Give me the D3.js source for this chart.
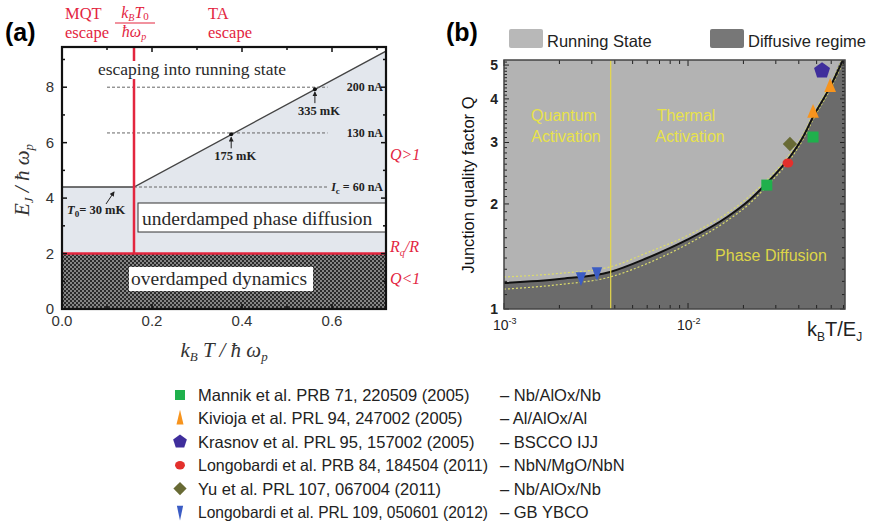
<!DOCTYPE html>
<html><head><meta charset="utf-8">
<script src="https://cdn.jsdelivr.net/npm/d3@7"></script>
<style>body{margin:0;background:#fff;}svg{display:block;}</style>
</head><body>
<svg id="c" width="878" height="525"></svg>
<script>
// ---------------- DATA ----------------
// Panel (a)
const aXMajor = [0.0, 0.2, 0.4, 0.6];
const aXMinor = [0.1, 0.3, 0.5, 0.7];
const aYMajor = [0, 2, 4, 6, 8];
const aYMinor = [1, 3, 5, 7, 9];
const T0 = 0.16;                       // kB T0 / hbar wp
const EQ = 2;                          // Rq/R boundary
const boundaryX = [0, 0.16, 0.72];
const boundaryE = [4.4, 4.4, 9.3];
const levelE = [8.0, 6.35, 4.4];
const levelStart = [0.10, 0.10, 0.16];
const levelEnd = [0.59, 0.59, 0.59];
const levelLabels = ["200 nA", "130 nA", "60 nA"];
const tempX = [0.376, 0.562];
const tempE = [6.3, 7.93];
const tempLabels = ["175 mK", "335 mK"];

// Panel (b)
const curveT = [0.001, 0.002, 0.00377, 0.006, 0.00985, 0.0163, 0.0215, 0.0268, 0.0358, 0.042, 0.0478, 0.0592, 0.0695];
const curveQ = [1.187, 1.219, 1.277, 1.40, 1.577, 1.835, 2.05, 2.295, 2.73, 3.10, 3.55, 4.33, 5.17];
const upperQ = [1.235, 1.265, 1.32, 1.45, 1.62, 1.88, 2.10, 2.34, 2.78, 3.15, 3.61, 4.40, 5.25];
const lowerQ = [1.14, 1.175, 1.235, 1.35, 1.53, 1.79, 2.0, 2.25, 2.68, 3.05, 3.49, 4.26, 5.09];
const quantumT = 0.0038;
const bYMajor = [1, 2, 3, 4, 5];
const bXMajor = [0.001, 0.01];
const bXMinor = [0.002,0.003,0.004,0.005,0.006,0.007,0.008,0.009,0.02,0.03,0.04,0.05,0.06,0.07];

const seriesNames = ["Mannik et al. PRB 71, 220509 (2005)", "Kivioja et al. PRL 94, 247002 (2005)",
  "Krasnov et al. PRL 95, 157002 (2005)", "Longobardi et al. PRB 84, 184504 (2011)",
  "Yu et al. PRL 107, 067004 (2011)", "Longobardi et al. PRL 109, 050601 (2012)"];
const seriesMaterials = ["– Nb/AlOx/Nb", "– Al/AlOx/Al", "– BSCCO IJJ", "– NbN/MgO/NbN", "– Nb/AlOx/Nb", "– GB YBCO"];
const seriesShapes = ["square", "triUp", "pentagon", "circle", "diamond", "triDown"];
const seriesColors = ["#1fb04c", "#f7941d", "#3f2e9c", "#e3302c", "#686a34", "#3b5cc4"];
const mannikT = [0.0268, 0.0478],  mannikQ = [2.265, 3.11];
const kiviojaT = [0.0478, 0.0592], kiviojaQ = [3.67, 4.35];
const krasnovT = [0.0535],         krasnovQ = [4.82];
const longo11T = [0.0349],         longo11Q = [2.62];
const yuT = [0.0358],              yuQ = [2.97];
const longo12T = [0.00262, 0.0032], longo12Q = [1.227, 1.268];
const seriesT = [mannikT, kiviojaT, krasnovT, longo11T, yuT, longo12T];
const seriesQ = [mannikQ, kiviojaQ, krasnovQ, longo11Q, yuQ, longo12Q];

// ---------------- DRAW ----------------
const svg = d3.select("#c");
const serif = "'Liberation Serif','Times New Roman',serif";
const sans = "'Liberation Sans',Arial,sans-serif";
const RED = "#e3263f";
const defs = svg.append("defs");

const pat = defs.append("pattern").attr("id","hatch").attr("width",4).attr("height",4).attr("patternUnits","userSpaceOnUse");
pat.append("rect").attr("width",4).attr("height",4).attr("fill","#2a2a2a");
pat.append("rect").attr("width",2).attr("height",2).attr("fill","#858585");
pat.append("rect").attr("x",2).attr("y",2).attr("width",2).attr("height",2).attr("fill","#858585");
const arrowM = defs.append("marker").attr("id","arr").attr("viewBox","0 0 6 6").attr("refX",5).attr("refY",3)
  .attr("markerWidth",5).attr("markerHeight",5).attr("orient","auto");
arrowM.append("path").attr("d","M0,0L6,3L0,6Z").attr("fill","#222");

// ===== Panel (a) =====
const xa = d3.scaleLinear().domain([0, 0.72]).range([62, 386]);
const ya = d3.scaleLinear().domain([0, 9.45]).range([309, 47]);
const ga = svg.append("g");
const [ax0, ax1] = xa.range(), [ay0, ay1] = ya.range();

ga.append("rect").attr("x",ax0).attr("y",ay1).attr("width",ax1-ax0).attr("height",ay0-ay1).attr("fill","#fff");
ga.append("path").datum(boundaryX.map((x,i)=>[x,boundaryE[i]]))
  .attr("d", d3.area().x(d=>xa(d[0])).y0(ya(EQ)).y1(d=>ya(d[1])))
  .attr("fill","#e3e7ed");
ga.append("rect").attr("x",ax0).attr("y",ya(EQ)).attr("width",ax1-ax0).attr("height",ya(0)-ya(EQ)).attr("fill","url(#hatch)");
ga.append("path").datum(boundaryX.map((x,i)=>[x,boundaryE[i]]))
  .attr("d", d3.line().x(d=>xa(d[0])).y(d=>ya(d[1])))
  .attr("fill","none").attr("stroke","#444").attr("stroke-width",1.4);
levelE.forEach((e,i)=>{
  ga.append("line").attr("x1",xa(levelStart[i])).attr("x2",xa(levelEnd[i])).attr("y1",ya(e)).attr("y2",ya(e))
    .attr("stroke","#666").attr("stroke-width",1).attr("stroke-dasharray","3,2");
  const t = ga.append("text").attr("x",383).attr("y",ya(e)+4).attr("text-anchor","end")
    .attr("font-family",serif).attr("font-weight","bold").attr("font-size",12).attr("fill","#222");
  if (i === 2) {
    t.append("tspan").attr("font-style","italic").text("I");
    t.append("tspan").attr("font-size",9).attr("dy",3).text("c");
    t.append("tspan").attr("dy",-3).text(" = " + levelLabels[i]);
  } else t.text(levelLabels[i]);
});
tempX.forEach((x,i)=>{
  ga.append("circle").attr("cx",xa(x)).attr("cy",ya(tempE[i])).attr("r",2).attr("fill","#111");
  ga.append("line").attr("x1",xa(x)).attr("x2",xa(x)).attr("y1",ya(tempE[i])+14).attr("y2",ya(tempE[i])+3)
    .attr("stroke","#222").attr("stroke-width",1).attr("marker-end","url(#arr)");
  ga.append("text").attr("x",xa(x)+4).attr("y",ya(tempE[i])+26).attr("text-anchor","middle")
    .attr("font-family",serif).attr("font-weight","bold").attr("font-size",12.5).attr("fill","#222").text(tempLabels[i]);
});
const t0 = ga.append("text").attr("x",67).attr("y",214).attr("font-family",serif).attr("font-weight","bold")
  .attr("font-size",12.5).attr("fill","#222");
t0.append("tspan").attr("font-style","italic").text("T");
t0.append("tspan").attr("font-size",9).attr("dy",3).text("0");
t0.append("tspan").attr("dy",-3).text("= 30 mK");
ga.append("line").attr("x1",106).attr("y1",204).attr("x2",114).attr("y2",192).attr("stroke","#222").attr("marker-end","url(#arr)");

ga.append("line").attr("x1",xa(T0)).attr("x2",xa(T0)).attr("y1",ay1).attr("y2",ya(EQ))
  .attr("stroke",RED).attr("stroke-width",2.5);
ga.append("line").attr("x1",ax0).attr("x2",ax1).attr("y1",ya(EQ)).attr("y2",ya(EQ))
  .attr("stroke",RED).attr("stroke-width",2.5);

function boxedText(x, y, txt, size) {
  const g = ga.append("g");
  const r = g.append("rect").attr("fill","#fff");
  const t = g.append("text").attr("x",x).attr("y",y).attr("font-family",serif).attr("font-size",size)
    .attr("fill","#2a2a2a").text(txt);
  return {g, r, t};
}
const esc = boxedText(192, 75, "escaping into running state", 17.5);
esc.t.attr("text-anchor","middle");
{ const b = esc.t.node().getBBox(); esc.r.attr("x",b.x-2).attr("y",b.y+2).attr("width",b.width+4).attr("height",b.height-2); }
const und = boxedText(142, 225, "underdamped phase diffusion", 19.5);
und.r.attr("x",138).attr("y",203).attr("width",ax1-138).attr("height",29).attr("stroke","#333").attr("stroke-width",1);
const ovd = boxedText(131, 285, "overdamped dynamics", 19.5);
ovd.r.attr("x",129).attr("y",267).attr("width",184).attr("height",24);

const tickStyle = s => s.attr("stroke","#111").attr("stroke-width",1.5);
aXMajor.concat(aXMinor).forEach(v=>{
  const len = aXMajor.includes(v) ? 5 : 3;
  tickStyle(ga.append("line").attr("x1",xa(v)).attr("x2",xa(v)).attr("y1",ay0).attr("y2",ay0-len));
  tickStyle(ga.append("line").attr("x1",xa(v)).attr("x2",xa(v)).attr("y1",ay1).attr("y2",ay1+len));
});
aYMajor.concat(aYMinor).forEach(v=>{
  const len = aYMajor.includes(v) ? 5 : 3;
  tickStyle(ga.append("line").attr("x1",ax0).attr("x2",ax0+len).attr("y1",ya(v)).attr("y2",ya(v)));
  tickStyle(ga.append("line").attr("x1",ax1).attr("x2",ax1-len).attr("y1",ya(v)).attr("y2",ya(v)));
});
ga.append("rect").attr("x",ax0).attr("y",ay1).attr("width",ax1-ax0).attr("height",ay0-ay1)
  .attr("fill","none").attr("stroke","#111").attr("stroke-width",2.2);
aXMajor.forEach(v=>ga.append("text").attr("x",xa(v)).attr("y",326).attr("text-anchor","middle")
  .attr("font-family",sans).attr("font-size",15).attr("fill","#333").text(d3.format(".1f")(v)));
aYMajor.forEach(v=>ga.append("text").attr("x",54).attr("y",ya(v)+5).attr("text-anchor","end")
  .attr("font-family",sans).attr("font-size",15).attr("fill","#333").text(v));

const yl = ga.append("text").attr("transform","translate(29,180) rotate(-90)").attr("text-anchor","middle")
  .attr("font-family",serif).attr("font-style","italic").attr("font-size",21).attr("fill","#333");
yl.append("tspan").text("E");
yl.append("tspan").attr("font-size",13).attr("dy",4).text("J");
yl.append("tspan").attr("dy",-4).text(" / ħ ω");
yl.append("tspan").attr("font-size",13).attr("dy",4).text("p");
const xl = ga.append("text").attr("x",224).attr("y",357).attr("text-anchor","middle")
  .attr("font-family",serif).attr("font-style","italic").attr("font-size",21).attr("fill","#333");
xl.append("tspan").text("k");
xl.append("tspan").attr("font-size",13).attr("dy",4).text("B");
xl.append("tspan").attr("dy",-4).text(" T / ħ ω");
xl.append("tspan").attr("font-size",13).attr("dy",4).text("p");

function redText(x,y,txt,size,italic){ return ga.append("text").attr("x",x).attr("y",y).attr("font-family",serif)
  .attr("font-size",size).attr("fill",RED).attr("font-style",italic?"italic":"normal").text(txt); }
redText(65,19,"MQT",16.5); redText(65,38,"escape",16.5);
redText(208,19,"TA",16.5); redText(208,38,"escape",16.5);
const num = ga.append("text").attr("x",135).attr("y",18).attr("text-anchor","middle").attr("font-family",serif)
  .attr("font-size",16).attr("fill",RED).attr("font-style","italic");
num.append("tspan").text("k"); num.append("tspan").attr("font-size",10).attr("dy",3).text("B");
num.append("tspan").attr("dy",-3).text("T"); num.append("tspan").attr("font-size",11).attr("dy",2).attr("font-style","normal").text("0");
ga.append("line").attr("x1",115).attr("x2",155).attr("y1",23).attr("y2",23).attr("stroke",RED).attr("stroke-width",1.2);
const den = ga.append("text").attr("x",134).attr("y",37).attr("text-anchor","middle").attr("font-family",serif)
  .attr("font-size",16).attr("fill",RED).attr("font-style","italic");
den.append("tspan").text("ħω"); den.append("tspan").attr("font-size",10).attr("dy",3).text("p");
redText(390,160,"Q>1",16,true);
const rq = ga.append("text").attr("x",390).attr("y",252).attr("font-family",serif).attr("font-size",16).attr("fill",RED).attr("font-style","italic");
rq.append("tspan").text("R"); rq.append("tspan").attr("font-size",10).attr("dy",4).text("q"); rq.append("tspan").attr("dy",-4).text("/R");
redText(390,284,"Q<1",16,true);

svg.append("text").attr("x",5).attr("y",41).attr("font-family",sans).attr("font-weight","bold").attr("font-size",25).text("(a)");

// ===== Panel (b) =====
const xb = d3.scaleLog().domain([0.001, 0.0713]).range([504, 845]);
const yb = d3.scaleLog().domain([1, 5.17]).range([309, 60]);
const gb = svg.append("g");
const [bx0, bx1] = xb.range(), [by0, by1] = yb.range();
defs.append("clipPath").attr("id","clipb").append("rect").attr("x",bx0).attr("y",by1).attr("width",bx1-bx0).attr("height",by0-by1);
const pb = gb.append("g").attr("clip-path","url(#clipb)");
pb.append("rect").attr("x",bx0).attr("y",by1).attr("width",bx1-bx0).attr("height",by0-by1).attr("fill","#b3b3b3");
const areaData = curveT.map((t,i)=>[t,curveQ[i]]).concat([[xb.domain()[1], yb.domain()[1]]]);
pb.append("path").datum(areaData)
  .attr("d", d3.area().x(d=>xb(d[0])).y0(by0).y1(d=>yb(d[1])).curve(d3.curveMonotoneX))
  .attr("fill","#6b6b6b");
const lineGen = d3.line().x(d=>xb(d[0])).y(d=>yb(d[1])).curve(d3.curveMonotoneX);
[upperQ, lowerQ].forEach(arr=>{
  pb.append("path").datum(curveT.map((t,i)=>[t,arr[i]])).attr("d",lineGen)
    .attr("fill","none").attr("stroke","#dcdc6a").attr("stroke-width",1.2).attr("stroke-dasharray","2,2");
});
pb.append("path").datum(curveT.map((t,i)=>[t,curveQ[i]])).attr("d",lineGen)
  .attr("fill","none").attr("stroke","#111").attr("stroke-width",2);
pb.append("line").attr("x1",xb(quantumT)).attr("x2",xb(quantumT)).attr("y1",by1).attr("y2",by0)
  .attr("stroke","#e6d84a").attr("stroke-width",1.2);

const YEL = "#e8e24a";
function ytext(x,y,txt){ pb.append("text").attr("x",x).attr("y",y).attr("text-anchor","middle").attr("font-family",sans)
  .attr("font-size",16).attr("fill",YEL).text(txt); }
ytext(564,121,"Quantum"); ytext(566,142,"Activation");
ytext(686,121,"Thermal"); ytext(690,142,"Activation");
pb.append("text").attr("x",771).attr("y",261).attr("text-anchor","middle").attr("font-family",sans)
  .attr("font-size",16).attr("fill","#ddd548").text("Phase Diffusion");

function shapePath(shape, s) {
  switch (shape) {
    case "square": return `M${-s/2},${-s/2}h${s}v${s}h${-s}Z`;
    case "triUp": return `M0,${-s*0.62}L${s*0.45},${s*0.45}L${-s*0.45},${s*0.45}Z`;
    case "triDown": return `M0,${s*0.62}L${s*0.4},${-s*0.45}L${-s*0.4},${-s*0.45}Z`;
    case "pentagon": return d3.range(5).map((k,i)=>{const a=-Math.PI/2+k*2*Math.PI/5;return (i?"L":"M")+(s*0.6*Math.cos(a)).toFixed(2)+","+(s*0.6*Math.sin(a)).toFixed(2);}).join("")+"Z";
    case "diamond": return `M0,${-s*0.55}L${s*0.55},0L0,${s*0.55}L${-s*0.55},0Z`;
    case "circle": return `M${-s*0.45},0a${s*0.45},${s*0.38} 0 1,0 ${s*0.9},0a${s*0.45},${s*0.38} 0 1,0 ${-s*0.9},0Z`;
  }
}
const plotShapeSize = [11, 13, 14, 12, 13, 13];
seriesT.forEach((ts,si)=>{
  ts.forEach((t,j)=>{
    gb.append("path").attr("d",shapePath(seriesShapes[si], plotShapeSize[si]))
      .attr("transform",`translate(${xb(t)},${yb(seriesQ[si][j])})`).attr("fill",seriesColors[si]);
  });
});

const yMinor = d3.range(11, 52).map(v=>v/10).filter(v=>!bYMajor.includes(v));
const bt = s => s.attr("stroke","#222").attr("stroke-width",1);
bYMajor.concat(yMinor).forEach(v=>{
  const len = bYMajor.includes(v) ? 5 : 3;
  bt(gb.append("line").attr("x1",bx0).attr("x2",bx0+len).attr("y1",yb(v)).attr("y2",yb(v)));
  bt(gb.append("line").attr("x1",bx1).attr("x2",bx1-len).attr("y1",yb(v)).attr("y2",yb(v)));
});
bXMajor.concat(bXMinor).forEach(v=>{
  const len = bXMajor.includes(v) ? 6 : 4;
  bt(gb.append("line").attr("x1",xb(v)).attr("x2",xb(v)).attr("y1",by0).attr("y2",by0-len));
  bt(gb.append("line").attr("x1",xb(v)).attr("x2",xb(v)).attr("y1",by1).attr("y2",by1+len));
});
gb.append("rect").attr("x",bx0).attr("y",by1).attr("width",bx1-bx0).attr("height",by0-by1)
  .attr("fill","none").attr("stroke","#444").attr("stroke-width",1.5);
bYMajor.forEach(v=>gb.append("text").attr("x",498).attr("y",yb(v)+5).attr("text-anchor","end")
  .attr("font-family",sans).attr("font-weight","bold").attr("font-size",14).attr("fill","#222").text(v));
bXMajor.forEach(v=>{
  const t = gb.append("text").attr("x",xb(v)-11).attr("y",330).attr("font-family",sans).attr("font-size",14).attr("fill","#222");
  t.append("tspan").text("10");
  t.append("tspan").attr("font-size",9).attr("dy",-6).text("-" + Math.round(-Math.log10(v)));
});
gb.append("text").attr("transform","translate(474,185) rotate(-90)").attr("text-anchor","middle")
  .attr("font-family",sans).attr("font-size",16.5).attr("fill","#111").text("Junction quality factor Q");
const bxl = gb.append("text").attr("x",807).attr("y",336).attr("font-family",sans).attr("font-size",20).attr("fill","#222");
bxl.append("tspan").text("k"); bxl.append("tspan").attr("font-size",12).attr("dy",5).text("B");
bxl.append("tspan").attr("dy",-5).text("T/E"); bxl.append("tspan").attr("font-size",12).attr("dy",5).text("J");

svg.append("text").attr("x",446).attr("y",41).attr("font-family",sans).attr("font-weight","bold").attr("font-size",25).text("(b)");
const regionNames = ["Running State", "Diffusive regime"];
const regionColors = ["#b8b8b8", "#777777"];
const regionX = [509, 710];
regionNames.forEach((n,i)=>{
  svg.append("rect").attr("x",regionX[i]).attr("y",29).attr("width",34).attr("height",19).attr("rx",2).attr("fill",regionColors[i]);
  svg.append("text").attr("x",regionX[i]+38).attr("y",47).attr("font-family",sans).attr("font-size",16.5).attr("fill","#222").text(n);
});

const legY = d3.scaleLinear().domain([0,5]).range([395, 512]);
const legShapeSize = [10, 12, 12, 11, 12, 12];
seriesNames.forEach((n,i)=>{
  let tr = `translate(180,${legY(i)})`;
  if (seriesShapes[i]==="triUp" || seriesShapes[i]==="triDown") tr += " scale(0.65,1.15)";
  svg.append("path").attr("d",shapePath(seriesShapes[i], legShapeSize[i])).attr("transform",tr).attr("fill",seriesColors[i]);
  const t = svg.append("text").attr("x",198).attr("y",legY(i)+6).attr("font-family",sans).attr("font-size",16.5).attr("fill","#222").text(n);
  if (t.node().getComputedTextLength() > 290) t.attr("textLength",290).attr("lengthAdjust","spacingAndGlyphs");
  svg.append("text").attr("x",500).attr("y",legY(i)+6).attr("font-family",sans).attr("font-size",16.5).attr("fill","#222").text(seriesMaterials[i]);
});
</script>
</body></html>
